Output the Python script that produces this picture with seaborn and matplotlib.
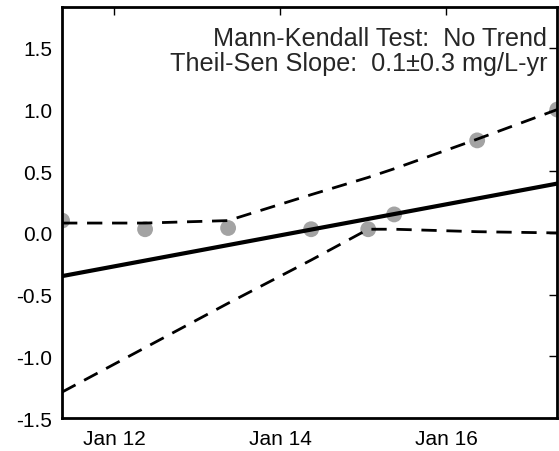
import matplotlib
matplotlib.use("Agg")
import matplotlib.pyplot as plt
import matplotlib.dates as mdates
import seaborn as sns
import pandas as pd

# sample dates and concentrations
dates = ["2015-01-11 09:00", "2015-01-12 09:00", "2015-01-13 09:00", "2015-01-14 09:00",
         "2015-01-15 01:30", "2015-01-15 09:00", "2015-01-16 09:00", "2015-01-17 08:10"]
values = [0.10, 0.03, 0.04, 0.03, 0.03, 0.15, 0.75, 1.00]

# confidence band on the trend, read at each sample date
upper = [0.08, 0.08, 0.10, 0.31, 0.45, 0.52, 0.76, 1.00]
lower = [-1.29, -0.93, -0.57, -0.22, 0.03, 0.03, 0.01, 0.00]

# Theil-Sen trend line end points
trend_dates = [dates[0], dates[-1]]
trend_values = [-0.35, 0.40]

yticks = [-1.5, -1.0, -0.5, 0.0, 0.5, 1.0, 1.5]
text_lines = ["Mann-Kendall Test:  No Trend", "Theil-Sen Slope:  0.1\u00b10.3 mg/L-yr"]

sns.set_style("white")
plt.rcParams["font.family"] = ["Liberation Sans", "DejaVu Sans"]
plt.rcParams["font.size"] = 15

df = pd.DataFrame({"date": pd.to_datetime(dates), "value": values,
                   "upper": upper, "lower": lower})
trend = pd.DataFrame({"date": pd.to_datetime(trend_dates), "value": trend_values})

fig = plt.figure(figsize=(5.59, 4.52), dpi=100)
ax = fig.add_axes([0.111, 0.073, 0.886, 0.909])

sns.scatterplot(data=df, x="date", y="value", ax=ax, color="#a3a3a3", s=130,
                edgecolor="none", zorder=2)
sns.lineplot(data=df, x="date", y="upper", ax=ax, color="black", lw=2,
             linestyle=(0, (5.5, 3.5)), zorder=3)
sns.lineplot(data=df, x="date", y="lower", ax=ax, color="black", lw=2,
             linestyle=(0, (5.5, 3.5)), zorder=3)
sns.lineplot(data=trend, x="date", y="value", ax=ax, color="black", lw=3, zorder=4)

ax.set_xlim(df["date"].iloc[0], df["date"].iloc[-1])
ax.set_ylim(-1.5, 1.83)
ax.set_yticks(yticks)
ax.set_yticklabels([f"{v:.1f}" for v in yticks])
ax.xaxis.set_major_locator(mdates.DayLocator(bymonthday=[12, 14, 16]))
ax.xaxis.set_major_formatter(mdates.DateFormatter("%b %d"))
ax.set_xlabel("")
ax.set_ylabel("")

for sp in ax.spines.values():
    sp.set_visible(True)
    sp.set_linewidth(2)
    sp.set_color("black")
ax.tick_params(direction="in", length=6, width=1, top=True, right=True,
               labelsize=15, colors="black")
ax.tick_params(axis="y", pad=7)
ax.tick_params(axis="x", pad=8)

ax.text(0.98, 0.908, text_lines[0], transform=ax.transAxes, ha="right", va="baseline", fontsize=18.2)
ax.text(0.98, 0.847, text_lines[1], transform=ax.transAxes, ha="right", va="baseline", fontsize=18.2)

fig.savefig("out.png", dpi=100)
